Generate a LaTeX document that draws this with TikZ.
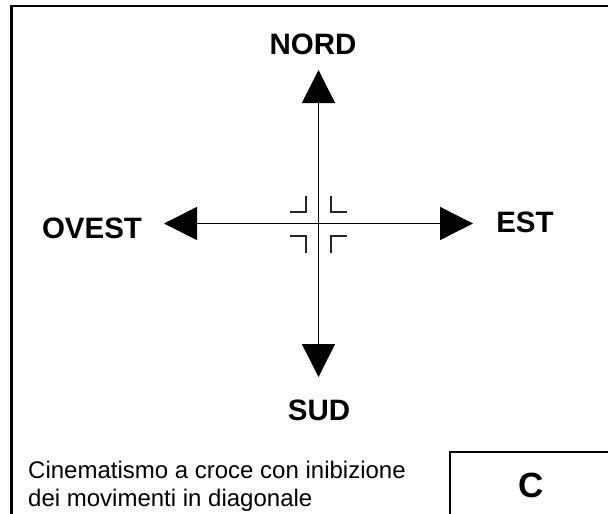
\documentclass[tikz,border=0pt]{standalone}
\usepackage{fontspec}
\setmainfont{Liberation Sans}
\usetikzlibrary{arrows.meta}
\begin{document}
\begin{tikzpicture}[x=1pt,y=-1pt,
  dir/.style={font=\fontsize{29.5}{32}\selectfont\bfseries},
  axis/.style={line width=1.5pt,-{Triangle[length=33pt,width=33pt]}},
  bracket/.style={line width=1.6pt,black!85},
  frame/.style={line width=2.6pt}]
\useasboundingbox (0,0) rectangle (608,514);
\begin{scope}
\clip (0,0) rectangle (608,514);
\draw[frame] (11.5,6) rectangle (620,530);
\draw[line width=2.2pt] (450,452) rectangle (620,530);
\end{scope}
\coordinate (c) at (318.5,223.5);
\coordinate (ntip) at (318.5,70);
\coordinate (stip) at (318.5,377);
\coordinate (wtip) at (164,223.5);
\coordinate (etip) at (473,223.5);
\draw[axis] (c) -- (ntip);
\draw[axis] (c) -- (stip);
\draw[axis] (c) -- (wtip);
\draw[axis] (c) -- (etip);
\node[dir] (nord) at (313,44) {NORD};
\node[dir] (sud) at (319,410) {SUD};
\node[dir] (ovest) at (92,228) {OVEST};
\node[dir] (est) at (525,222) {EST};
\draw[bracket] (290,212) -- (306,212) -- (306,196);
\draw[bracket] (331,196) -- (331,212) -- (347,212);
\draw[bracket] (290,236) -- (306,236) -- (306,253);
\draw[bracket] (347,236) -- (331,236) -- (331,253);
\node[font=\fontsize{24}{27.5}\selectfont,align=left,anchor=base west,inner sep=0pt] (cap) at (28,506) {Cinematismo a croce con inibizione\\dei movimenti in diagonale};
\node[font=\fontsize{35}{38}\selectfont\bfseries] (lab) at (531,485) {C};
\end{tikzpicture}
\end{document}
